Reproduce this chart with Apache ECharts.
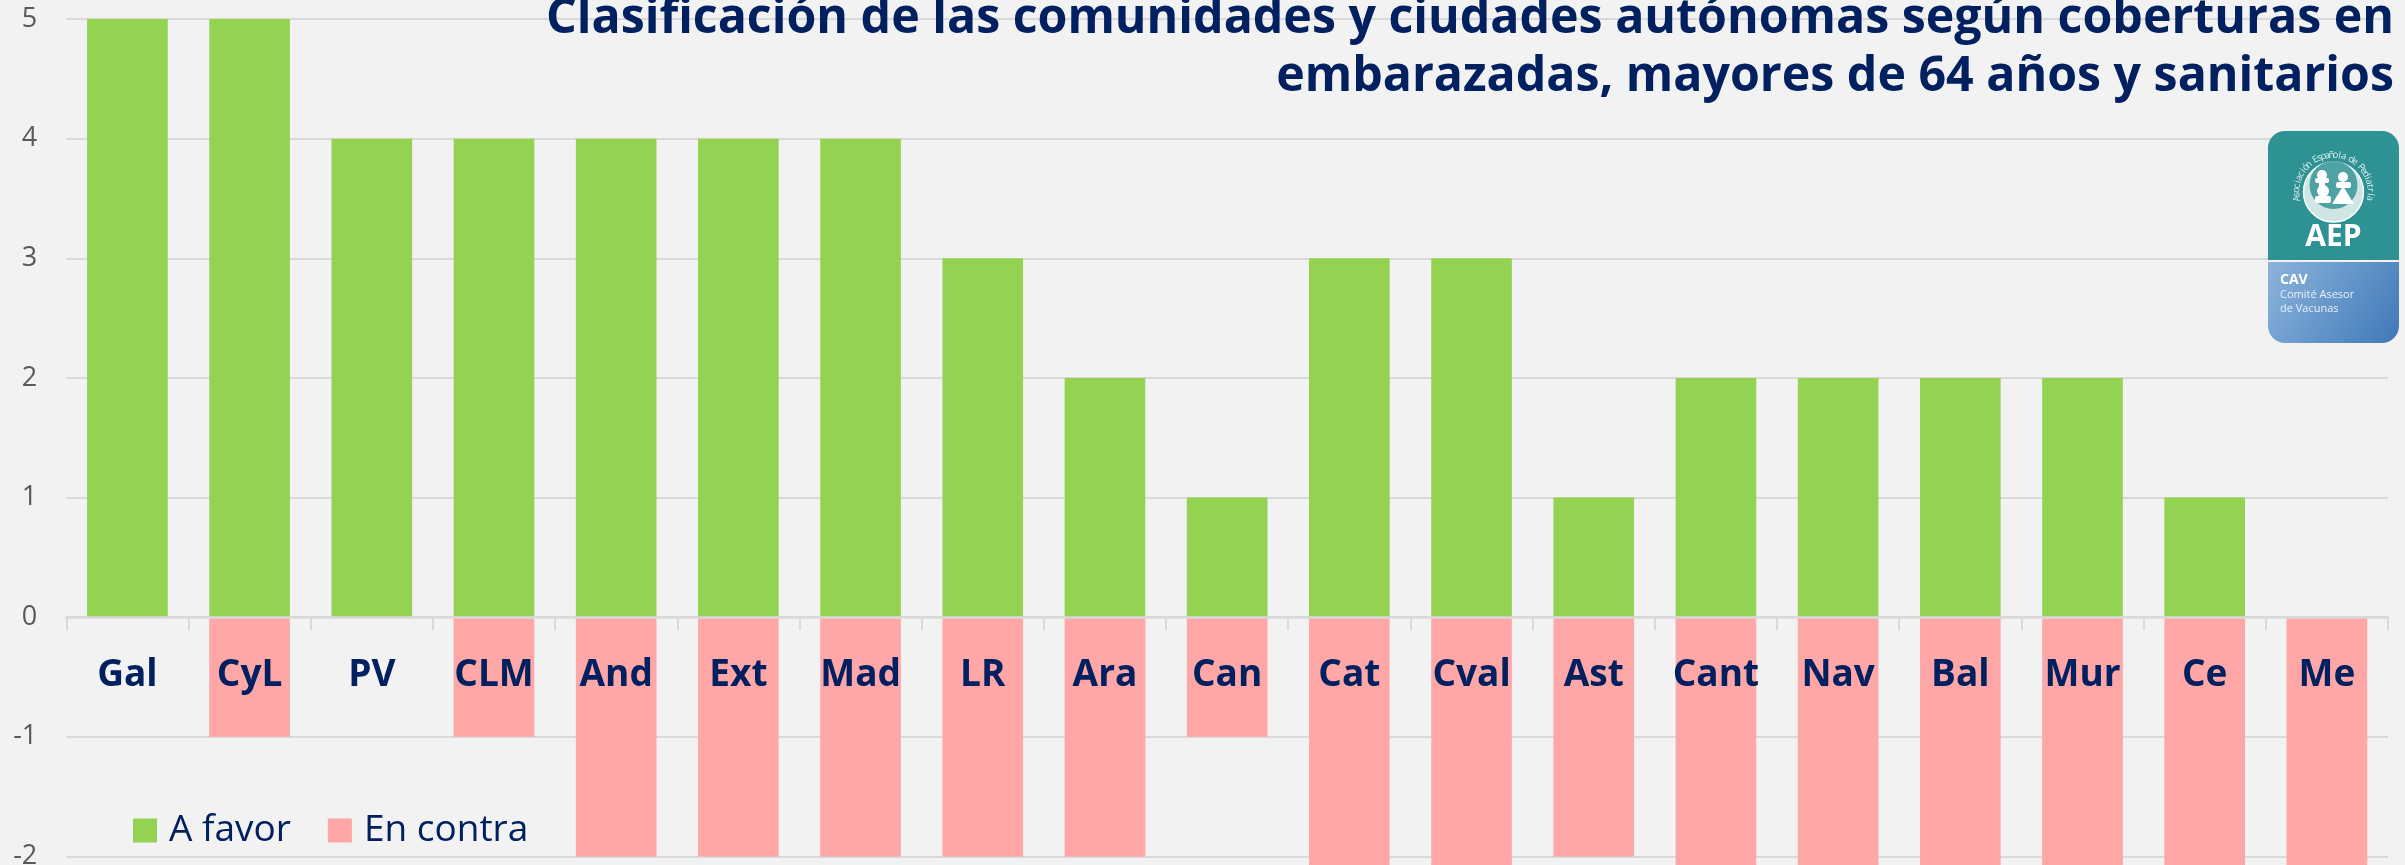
<!DOCTYPE html>
<html><head><meta charset="utf-8">
<style>html,body{margin:0;padding:0;background:#f2f2f2;overflow:hidden}#c{width:2405px;height:865px}</style>
<script src="https://cdn.jsdelivr.net/npm/echarts@6/dist/echarts.min.js"></script>
</head><body><div id="c"></div>
<script>
const categories = ['Gal','CyL','PV','CLM','And','Ext','Mad','LR','Ara','Can','Cat','Cval','Ast','Cant','Nav','Bal','Mur','Ce','Me'];
const aFavor   = [5,5,4,4,4,4,4,3,2,1,3,3,1,2,2,2,2,1,0];
const enContra = [0,-1,0,-1,-2,-2,-2,-2,-2,-1,-3,-3,-2,-3,-3,-3,-3,-3,-3];
const titleText = 'Clasificación de las comunidades y ciudades autónomas según coberturas en\nembarazadas, mayores de 64 años y sanitarios';
const seal = 'Asociación Española de Pediatría';
const FONT = '"Open Sans", "Noto Sans", sans-serif';
const NAVY = '#002060';

const cx = 2333.5, cy = 192;
const graphics = [
  {type:'rect', z:20, shape:{x:2268,y:131,width:131,height:129,r:[17,17,0,0]}, style:{fill:'#2e9193'}},
  {type:'rect', z:20, shape:{x:2268,y:262,width:131,height:81,r:[0,0,17,17]},
   style:{fill:new echarts.graphic.LinearGradient(0,0,1,1,[{offset:0,color:'#8cb4dc'},{offset:1,color:'#3f78b8'}])}},
  {type:'circle', z:21, shape:{cx:cx,cy:cy,r:30}, style:{fill:'#cfe6e5',stroke:'#ffffff',lineWidth:1.5}},
  {type:'circle', z:21, shape:{cx:cx,cy:cy-7,r:24}, style:{fill:'#2e9193',opacity:0.8}},
  {type:'circle', z:22, shape:{cx:2322,cy:175,r:5}, style:{fill:'#fff'}},
  {type:'rect', z:22, shape:{x:2315,y:178,width:14,height:5,r:2}, style:{fill:'#fff'}},
  {type:'rect', z:22, shape:{x:2319,y:180,width:6,height:8,r:1}, style:{fill:'#fff'}},
  {type:'circle', z:22, shape:{cx:2323,cy:191,r:6}, style:{fill:'#fff'}},
  {type:'rect', z:22, shape:{x:2315,y:196,width:16,height:7,r:2}, style:{fill:'#fff'}},
  {type:'circle', z:22, shape:{cx:2343,cy:177,r:5}, style:{fill:'#fff'}},
  {type:'rect', z:22, shape:{x:2336,y:182,width:15,height:6,r:2}, style:{fill:'#fff'}},
  {type:'polygon', z:22, shape:{points:[[2343,186],[2354,204],[2332,204]]}, style:{fill:'#fff'}},
  {type:'text', z:22, style:{x:2333.5,y:237,text:'AEP',fill:'#fff',font:'bold 30px '+FONT,align:'center',verticalAlign:'middle'}},
  {type:'text', z:22, style:{x:2280,y:280,text:'CAV',fill:'#fff',font:'bold 14px '+FONT,verticalAlign:'middle'}},
  {type:'text', z:22, style:{x:2280,y:295,text:'Comité Asesor',fill:'#e8f0f8',font:'11px '+FONT,verticalAlign:'middle'}},
  {type:'text', z:22, style:{x:2280,y:309,text:'de Vacunas',fill:'#e8f0f8',font:'11px '+FONT,verticalAlign:'middle'}}
];
const sealChars = seal.split('');
sealChars.forEach((ch,i)=>{
  const a = (-100 + i*200/(sealChars.length-1)) * Math.PI/180;
  const r = 37;
  graphics.push({type:'text', z:22, x:cx+r*Math.sin(a), y:cy-r*Math.cos(a), rotation:-a,
    style:{x:0,y:0,text:ch,fill:'#d8eeee',font:'9.5px '+FONT,align:'center',verticalAlign:'middle'}});
});

const chart = echarts.init(document.getElementById('c'), null, {renderer:'canvas'});
chart.setOption({
  animation:false,
  backgroundColor:'#f2f2f2',
  title:{text:titleText,left:2389,top:-15,textAlign:'right',
    textStyle:{fontFamily:FONT,fontWeight:'bold',fontSize:48.3,lineHeight:58,color:NAVY,align:'right'}},
  legend:{left:128,top:807,itemWidth:24,itemHeight:24,itemGap:37,icon:'rect',
    textStyle:{fontFamily:FONT,fontSize:37,color:NAVY,padding:[0,0,0,7]},data:['A favor','En contra']},
  grid:{left:66.3,top:19,width:2321.7,height:957,containLabel:false,outerBoundsMode:'none'},
  xAxis:{type:'category',data:categories,z:10,boundaryGap:true,
    axisLine:{show:true,onZero:true,lineStyle:{color:'#d9d9d9',width:2.5}},
    axisTick:{show:true,alignWithLabel:false,length:13,lineStyle:{color:'#d9d9d9',width:2}},
    axisLabel:{interval:0,margin:-319,fontFamily:FONT,fontWeight:'bold',fontSize:37,color:NAVY}},
  yAxis:{type:'value',min:-3,max:5,interval:1,
    axisLine:{show:false},axisTick:{show:false},
    splitLine:{show:true,lineStyle:{color:'#d9d9d9',width:2}},
    axisLabel:{margin:29,fontFamily:FONT,fontSize:27,color:'#595959'}},
  series:[
    {name:'A favor',type:'bar',stack:'s',data:aFavor,barCategoryGap:'34%',itemStyle:{color:'#94d352'}},
    {name:'En contra',type:'bar',stack:'s',data:enContra,barCategoryGap:'34%',itemStyle:{color:'#ffa6a6'}}
  ],
  graphic:{elements:graphics}
});
</script></body></html>
